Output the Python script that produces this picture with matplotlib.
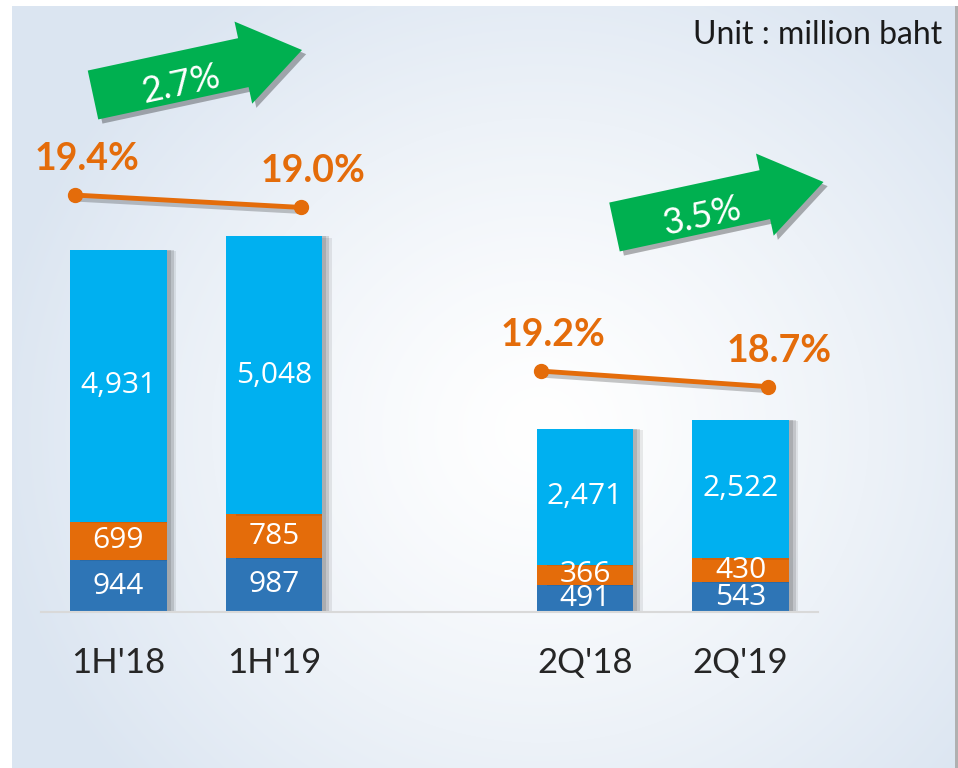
import numpy as np
import matplotlib
matplotlib.use('Agg')
import matplotlib.pyplot as plt
from matplotlib import patheffects as pe
from matplotlib.patches import FancyArrow

# data
periods = ["1H'18", "1H'19", "2Q'18", "2Q'19"]
x_pos = [0, 1, 3, 4]
seg_bottom = [944, 987, 491, 543]
seg_mid = [699, 785, 366, 430]
seg_top = [4931, 5048, 2471, 2522]
margin_1h = [19.4, 19.0]
margin_2q = [19.2, 18.7]
growth = ['2.7%', '3.5%']

c_dark = '#2e75b6'
c_orange = '#e46c0a'
c_light = '#00b0f0'
c_green = '#00b050'

W, H = 958, 768
fig = plt.figure(figsize=(W / 100, H / 100), dpi=100)

# background panel with radial gradient
bg = fig.add_axes([0, 0, 1, 1], zorder=0)
yy, xx = np.mgrid[0:H, 0:W]
d = np.sqrt(((xx - 540) / 1.0) ** 2 + ((yy - 430) / 0.95) ** 2)
t = np.clip(d / 560, 0, 1) ** 1.3
edge = np.array([219, 229, 241]) / 255
img = np.ones((H, W, 3)) * (1 - t[..., None]) + edge * t[..., None]
img[:6, :, :] = 1
img[:, :12, :] = 1
img[:, 955:, :] = np.array([176, 176, 176]) / 255
img[:6, 955:, :] = 1
bg.imshow(img, extent=(0, W, H, 0), aspect='auto', interpolation='bilinear')
bg.set_xlim(0, W)
bg.set_ylim(H, 0)
bg.axis('off')

# bars
rect = [40.75 / W, 156 / H, 777.5 / W, 607 / H]
ax = fig.add_axes(rect, zorder=1)
ax.patch.set_alpha(0)
shadow = [pe.SimplePatchShadow(offset=(7, -1), shadow_rgbFace='black', alpha=0.08),
          pe.SimplePatchShadow(offset=(5, 0), shadow_rgbFace='black', alpha=0.12),
          pe.SimplePatchShadow(offset=(3, 0), shadow_rgbFace='black', alpha=0.12),
          pe.Normal()]
b0 = np.array(seg_bottom)
b1 = b0 + np.array(seg_mid)
for vals, bott, col in [(seg_bottom, 0, c_dark), (seg_mid, b0, c_orange), (seg_top, b1, c_light)]:
    bc = ax.bar(x_pos, vals, bottom=bott, width=0.62, color=col, path_effects=shadow)
    ax.bar_label(bc, labels=[f'{v:,}' for v in vals], label_type='center',
                 color='white', fontsize=21.5, family='Open Sans')

ax.set_xlim(-0.5, 4.5)
ax.set_ylim(0, 607 / 0.05507)
ax.set_xticks(x_pos, periods, fontsize=25, color='#262626', family='Lato')
ax.tick_params(axis='x', length=0, pad=25)
ax.set_yticks([])
for s in ['top', 'left', 'right']:
    ax.spines[s].set_visible(False)
ax.spines['bottom'].set_color('#d9d9d9')
ax.spines['bottom'].set_linewidth(1.5)

# margin lines
line_fx = [pe.SimpleLineShadow(offset=(1.5, -3), shadow_color='black', alpha=0.22), pe.Normal()]
for i0, vals, lo in [(0, margin_1h, 5.95), (2, margin_2q, 11.43)]:
    lax = fig.add_axes(rect, zorder=2)
    lax.patch.set_alpha(0)
    lax.axis('off')
    lax.set_xlim(-0.5, 4.5)
    lax.set_ylim(lo, lo + 607 / 31)
    xs = [x_pos[i0] - 0.28, x_pos[i0 + 1] + 0.175]
    lax.plot(xs, vals, color=c_orange, lw=3.5, solid_capstyle='round', path_effects=line_fx)
    lax.plot(xs, vals, 'o', color=c_orange, ms=10)
    for xv, v in zip(xs, vals):
        lax.annotate(f'{v:.1f}%', (xv, v), xytext=(8.5, 26), textcoords='offset points',
                     ha='center', va='center', color=c_orange, fontsize=27,
                     family='Lato', fontweight='bold')

# growth arrows
ov = fig.add_axes([0, 0, 1, 1], zorder=3)
ov.patch.set_alpha(0)
ov.set_xlim(0, W)
ov.set_ylim(H, 0)
ov.axis('off')
arrow_fx = [pe.SimplePatchShadow(offset=(3, -3), shadow_rgbFace='black', alpha=0.3), pe.Normal()]
for (tx, ty), lab in zip([(93, 95), (614.5, 227)], growth):
    dx, dy = 209, -45
    ov.add_patch(FancyArrow(tx, ty, dx, dy, width=50, head_width=84, head_length=60,
                            length_includes_head=True, color=c_green, lw=0,
                            path_effects=arrow_fx))
    ang = np.degrees(np.arctan2(-dy, dx))
    ov.text(tx + 88, ty - 11, lab, rotation=ang, rotation_mode='anchor',
            ha='center', va='center', color='white', fontsize=26, family='Lato')

fig.text(942 / W, 1 - 35 / H, 'Unit : million baht', ha='right', va='center',
         fontsize=23, family='Lato', color='#1a1a1a')

fig.savefig('out.png', dpi=100)
